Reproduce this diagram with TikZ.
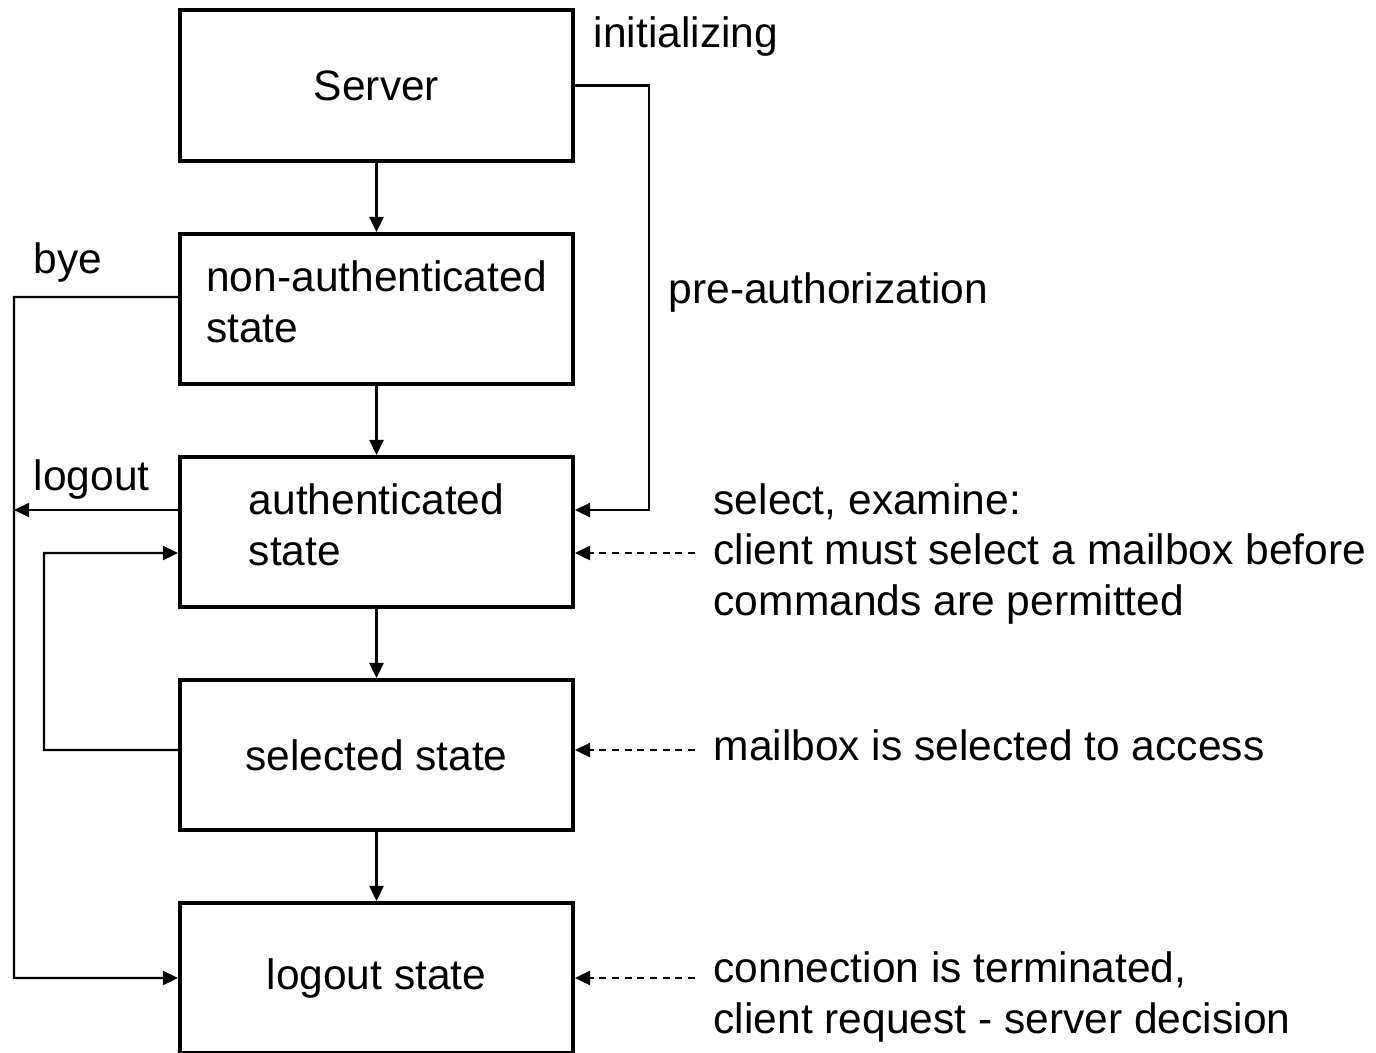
\documentclass[tikz,border=0pt]{standalone}
\usepackage{fontspec}
\setmainfont{Liberation Sans}
\usetikzlibrary{arrows.meta,calc}

\begin{document}
\begin{tikzpicture}[
        font=\fontsize{12.1pt}{14.3pt}\selectfont,
        state box/.style={draw, line width=1.1pt, minimum width=3.93cm,
            minimum height=1.5cm, align=left, inner sep=0pt},
        label text/.style={anchor=base west, inner sep=0pt, align=left},
        flow/.style={-{Triangle[length=4.3pt, width=4pt]}, line width=0.6pt},
        note flow/.style={flow, dash pattern=on 2pt off 1.6pt},
    ]
        \useasboundingbox (0,0) rectangle (13.76,-10.53);

        % State boxes
        \node[state box, minimum height=1.51cm] (server) at (3.765,-0.855) {Server};
        \node[state box] (nonauth) at (3.765,-3.09) {non-authenticated\\state\strut};
        \node[state box] (auth) at (3.765,-5.32) {authenticated\\state\strut};
        \node[state box] (selected) at (3.765,-7.55) {selected state};
        \node[state box] (logout) at (3.765,-9.78) {logout state};

        % Labels on the connectors
        \node[label text] (initlbl) at (5.93,-0.47) {initializing};
        \node[label text] (prelbl) at (6.68,-3.03) {pre-authorization};
        \node[label text] (byelbl) at (0.33,-2.73) {bye};
        \node[label text] (logoutlbl) at (0.33,-4.90) {logout};

        % Notes on the right (base = last line)
        \node[label text] (authnote) at (7.13,-6.15)
            {select, examine:\\client must select a mailbox before\\commands are permitted};
        \node[label text] (selnote) at (7.13,-7.60) {mailbox is selected to access};
        \node[label text] (lognote) at (7.13,-10.33)
            {connection is terminated,\\client request - server decision};
        \coordinate (authtip) at (6.95,-5.53);
        \coordinate (seltip) at (6.95,-7.50);
        \coordinate (logtip) at (6.95,-9.78);

        % Main flow
        \draw[flow] (server) -- (nonauth);
        \draw[flow] (nonauth) -- (auth);
        \draw[flow] (auth) -- (selected);
        \draw[flow] (selected) -- (logout);

        % Side flows
        \draw[flow] (server.east) -- (6.49,-0.855) |- ([yshift=0.22cm]auth.east);
        \draw[flow] ([yshift=0.12cm]nonauth.west) -- (0.14,-2.97) |- (logout.west);
        \draw[flow] ([yshift=0.22cm]auth.west) -- (0.14,-5.10);
        \draw[flow] ([yshift=0.05cm]selected.west) -- (0.44,-7.50) |- ([yshift=-0.21cm]auth.west);

        % Note pointers
        \draw[note flow] (authtip) -- (authtip -| auth.east);
        \draw[note flow] (seltip) -- (seltip -| selected.east);
        \draw[note flow] (logtip) -- (logtip -| logout.east);
    \end{tikzpicture}
\end{document}
